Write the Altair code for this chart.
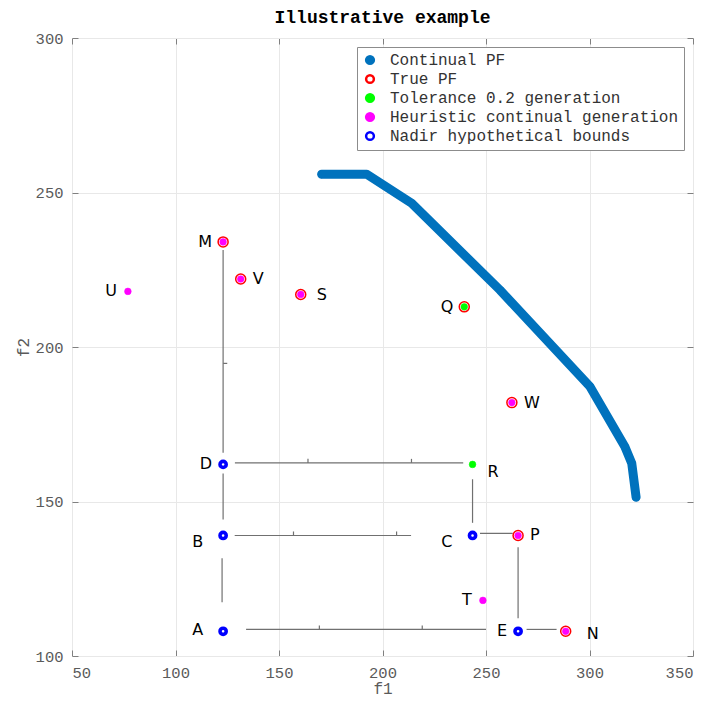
import altair as alt
import pandas as pd

# ---- data ----
x_ticks = [50, 100, 150, 200, 250, 300, 350]
y_ticks = [100, 150, 200, 250, 300]

# Continual Pareto front (polyline vertices)
pf_f1 = [170.6, 192.4, 214.1, 256.8, 300.2, 317.1, 320.4, 322.5]
pf_f2 = [255.9, 255.9, 246.5, 218.4, 187.2, 167.7, 162.4, 151.4]

# Named points
names = ["M", "V", "S", "U", "Q", "W", "D", "R", "B", "C", "P", "T", "A", "E", "N"]
pt_f1 = [123, 131.5, 160.5, 77, 239.5, 262.5, 123, 243.5, 123, 243.5, 265.5, 248.5, 123, 265.5, 288.5]
pt_f2 = [234, 222, 217, 218, 213, 182, 162, 162, 139, 139, 139, 118, 108, 108, 108]

true_pf = ["M", "V", "S", "Q", "W", "P", "N"]
tolerance = ["Q", "R"]
heuristic = ["M", "V", "S", "W", "P", "N", "U", "T"]
nadir = ["A", "B", "C", "D", "E"]

series_names = ["Continual PF", "True PF", "Tolerance 0.2 generation",
                "Heuristic continual generation", "Nadir hypothetical bounds"]

# Connector segments (f1, f2 start -> end)
seg_x1 = [123, 123, 122.5, 128.7, 128.6, 134.1, 269.6, 265.5, 247.1, 243.5,
          164, 214, 157, 206.8, 169.5, 219.2, 123]
seg_y1 = [231.4, 159.1, 131.6, 162.5, 139, 108.6, 108.6, 135.2, 139.7, 157.2,
          162.5, 162.5, 139, 139, 108.6, 108.6, 194.7]
seg_x2 = [123, 123, 122.5, 239.0, 213.8, 250.0, 284.1, 265.5, 262.9, 243.5,
          164, 214, 157, 206.8, 169.5, 219.2, 125]
seg_y2 = [165.8, 144.2, 117.4, 162.5, 139, 108.6, 108.6, 112.2, 139.7, 143.1,
          163.8, 163.8, 140.3, 140.3, 109.9, 109.9, 194.7]

# label placement group per point
label_group = {"M": "L", "U": "L", "Q": "L", "D": "L", "T": "L", "E": "L",
               "A": "A", "B": "LD", "C": "LD",
               "V": "R", "W": "R", "P": "R",
               "S": "RS", "R": "RD", "N": "RN"}

# ---- tables ----
coord = dict(zip(names, zip(pt_f1, pt_f2)))
members = {series_names[1]: true_pf, series_names[2]: tolerance,
           series_names[3]: heuristic, series_names[4]: nadir}
rows = []
for a, b in zip(pf_f1, pf_f2):
    rows.append({"f1": a, "f2": b, "series": series_names[0]})
for s, lst in members.items():
    for n in lst:
        rows.append({"f1": coord[n][0], "f2": coord[n][1], "series": s})
pts = pd.DataFrame(rows)
pf = pd.DataFrame({"f1": pf_f1, "f2": pf_f2, "i": list(range(len(pf_f1)))})
segs = pd.DataFrame({"x1": seg_x1, "y1": seg_y1, "x2": seg_x2, "y2": seg_y2})
labels = pd.DataFrame({"name": names, "f1": pt_f1, "f2": pt_f2,
                       "grp": [label_group[n] for n in names]})

# ---- styling ----
MONO = "Liberation Mono"
GRAY = "#5a5a5a"
xs = alt.Scale(domain=[50, 350], nice=False, zero=False)
ys = alt.Scale(domain=[100, 300], nice=False, zero=False)

fill_range = ["#0072BD", "#FFFFFF", "#00FF00", "#FF00FF", "#FFFFFF"]
stroke_range = ["#0072BD", "#FF0000", "#00FF00", "#FF00FF", "#0000FF"]
mark_style = {  # size, strokeWidth per series
    series_names[0]: (50, 1),
    series_names[1]: (100, 1.5),
    series_names[4]: (38, 3.6),
    series_names[3]: (45, 0.5),
    series_names[2]: (45, 0.5),
}

legend = alt.Legend(orient="top-right", offset=9, title=None, fillColor="white",
                    strokeColor="#8c8c8c", padding=5, labelFont=MONO,
                    labelFontSize=16, labelColor="#333333", symbolSize=60,
                    symbolStrokeWidth=2.5, rowPadding=1, labelOffset=12,
                    symbolType="circle", labelLimit=400, cornerRadius=0)

# main axes layer (segments)
seg_layer = alt.Chart(segs).mark_rule(color="#707070", strokeWidth=1.2).encode(
    x=alt.X("x1:Q", scale=xs, axis=alt.Axis(values=x_ticks, grid=True, gridColor="#e8e8e8",
                                            ticks=False, domain=False, labelPadding=9,
                                            title="f1", titlePadding=0, format="d")),
    y=alt.Y("y1:Q", scale=ys, axis=alt.Axis(values=y_ticks, grid=True, gridColor="#e8e8e8",
                                            ticks=False, domain=False, labelPadding=9,
                                            title="f2", titlePadding=4, format="d")),
    x2="x2:Q", y2="y2:Q",
)

# inward tick marks drawn as dashed grid on the top/right axes
tick_layer = alt.Chart(pf).mark_line(opacity=0).encode(
    x=alt.X("f1:Q", scale=xs, axis=alt.Axis(orient="top", values=x_ticks, grid=True,
                                            gridColor="#808080", gridDash=[6, 606, 6, 1000],
                                            labels=False, ticks=False, domain=False, title=None)),
    y=alt.Y("f2:Q", scale=ys, axis=alt.Axis(orient="right", values=y_ticks, grid=True,
                                            gridColor="#808080", gridDash=[6, 609, 6, 1000],
                                            labels=False, ticks=False, domain=False, title=None)),
)

pf_line = alt.Chart(pf).mark_line(color="#0072BD", strokeWidth=9, strokeCap="round",
                                  strokeJoin="round").encode(
    x=alt.X("f1:Q", scale=xs, axis=None),
    y=alt.Y("f2:Q", scale=ys, axis=None),
    order="i:Q",
)

point_layers = []
for s, (sz, sw) in mark_style.items():
    point_layers.append(
        alt.Chart(pts).transform_filter(alt.datum.series == s).mark_point(
            filled=True, opacity=1, shape="circle", size=sz, strokeWidth=sw).encode(
            x=alt.X("f1:Q", scale=xs, axis=None),
            y=alt.Y("f2:Q", scale=ys, axis=None),
            fill=alt.Fill("series:N", scale=alt.Scale(domain=series_names, range=fill_range),
                          legend=legend),
            stroke=alt.Stroke("series:N", scale=alt.Scale(domain=series_names, range=stroke_range),
                              legend=legend),
        )
    )

offsets = {"L": (-11, 0, "right"), "A": (-20, -1, "right"), "LD": (-20, 7, "right"),
           "R": (12, 0, "left"), "RS": (16, 1, "left"), "RD": (15, 8, "left"),
           "RN": (21, 3, "left")}
text_layers = []
for g, (dx, dy, al) in offsets.items():
    text_layers.append(
        alt.Chart(labels).transform_filter(alt.datum.grp == g).mark_text(
            font="DejaVu Sans", fontSize=16, color="black", align=al,
            baseline="middle", dx=dx, dy=dy).encode(
            x=alt.X("f1:Q", scale=xs, axis=None),
            y=alt.Y("f2:Q", scale=ys, axis=None),
            text="name:N")
    )

chart = alt.layer(seg_layer, tick_layer, pf_line, *point_layers, *text_layers).resolve_axis(
    x="independent", y="independent"
).properties(
    width=621, height=618,
    title=alt.TitleParams("Illustrative example", font=MONO, fontSize=18,
                          fontWeight="bold", color="black", offset=4),
    autosize=alt.AutoSizeParams(type="none"),
    padding={"left": 64, "top": 30, "right": 6, "bottom": 42},
).configure_view(stroke="#8c8c8c", strokeWidth=1).configure_axis(
    labelFont=MONO, labelFontSize=15.5, labelColor=GRAY,
    titleFont=MONO, titleFontSize=16, titleFontWeight="normal", titleColor=GRAY,
)

chart.save("out.html", embed_options={"renderer": "svg", "actions": False})
